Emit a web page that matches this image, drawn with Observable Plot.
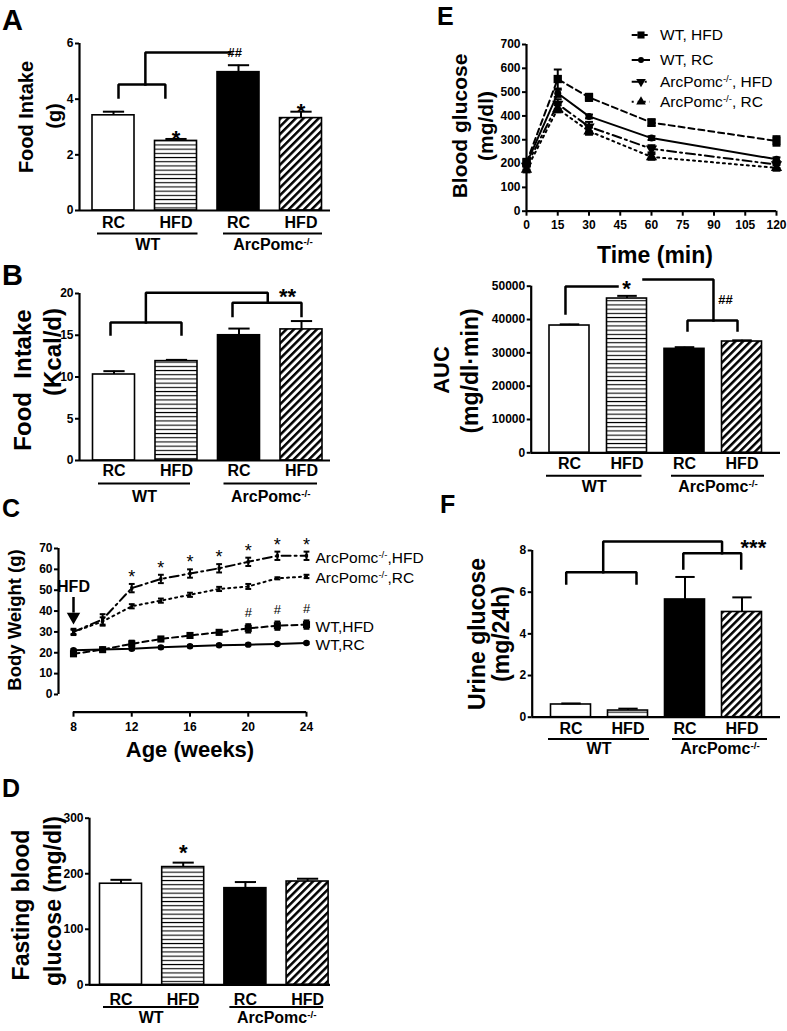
<!DOCTYPE html>
<html><head><meta charset="utf-8">
<script src="https://cdn.jsdelivr.net/npm/d3@7"></script>
<script src="https://cdn.jsdelivr.net/npm/@observablehq/plot@0.6"></script>
<style>
html,body{margin:0;padding:0;background:#fff;overflow:hidden;}
#fig{position:relative;width:787px;height:1031px;background:#fff;}
#fig svg{position:absolute;}
</style></head><body>
<svg width="0" height="0" style="position:absolute;left:0;top:0">
 <defs>
  <pattern id="hatchH" patternUnits="userSpaceOnUse" width="8" height="4.2"><rect width="8" height="4.2" fill="#fff"/><rect y="1.6" width="8" height="1.1" fill="#000"/></pattern>
  <pattern id="hatchD" patternUnits="userSpaceOnUse" width="5.4" height="5.4" patternTransform="rotate(45)"><rect width="5.4" height="5.4" fill="#fff"/><rect width="2.5" height="5.4" fill="#000"/></pattern>
 </defs>
</svg>
<div id="fig"></div>
<script>
// ---------------- DATA ----------------
const barLabels = ["RC", "HFD", "RC", "HFD"];
const groupNames = ["WT", "ArcPomc-/-"];

const foodIntakeG = [3.42, 2.50, 4.97, 3.32];
const foodIntakeGErr = [0.13, 0.07, 0.25, 0.23];
const foodIntakeKcal = [10.3, 11.9, 15.0, 15.7];
const foodIntakeKcalErr = [0.4, 0.15, 0.8, 1.0];
const fastingGlucose = [182, 212, 174, 186];
const fastingGlucoseErr = [7, 8, 11, 5];
const aucGlucose = [38200, 46300, 31200, 33400];
const aucGlucoseErr = [350, 800, 500, 350];
const urineGlucose = [0.61, 0.32, 5.65, 5.05];
const urineGlucoseErr = [0.05, 0.09, 1.08, 0.70];

const ageWeeks = [8, 10, 12, 14, 16, 18, 20, 22, 24];
const bwArcHFD = [30, 36, 51, 55.4, 58, 60.5, 63.6, 66.5, 66.5];
const bwArcHFDErr = [1.5, 2.5, 2, 2, 2, 2, 2, 2, 2];
const bwArcRC = [30, 35, 42.3, 45, 47.8, 50.6, 51.8, 55.7, 56.6];
const bwArcRCErr = [1, 2, 1, 1, 1, 1, 1.2, 0.5, 0.8];
const bwWTHFD = [19.5, 21.5, 24.3, 26.6, 28.3, 29.8, 31.7, 33, 33.5];
const bwWTHFDErr = [1, 0.8, 1.5, 1, 1, 1, 2, 2, 2];
const bwWTRC = [21.2, 21.6, 21.9, 22.6, 23.1, 23.6, 23.9, 24.2, 24.7];
const bwWTRCErr = [0.6, 0.5, 0.6, 0.5, 0.5, 0.5, 0.5, 0.5, 0.5];
const bwStarWeeks = [12, 14, 16, 18, 20, 22, 24];
const bwHashWeeks = [20, 22, 24];
const bwSeriesNames = ["ArcPomc-/-,HFD", "ArcPomc-/-,RC", "WT,HFD", "WT,RC"];

const timeMin = [0, 15, 30, 60, 120];
const gttWTHFD = [205, 555, 478, 372, 295];
const gttWTHFDErr = [15, 40, 15, 14, 20];
const gttWTRC = [200, 495, 398, 307, 218];
const gttWTRCErr = [12, 15, 8, 8, 8];
const gttArcHFD = [190, 450, 355, 262, 196];
const gttArcHFDErr = [15, 20, 20, 15, 15];
const gttArcRC = [175, 430, 336, 228, 182];
const gttArcRCErr = [12, 15, 15, 12, 12];
const gttNames = ["WT, HFD", "WT, RC", "ArcPomc-/-, HFD", "ArcPomc-/-, RC"];

// ---------------- STYLE ----------------
const FONT = '"Liberation Sans", Arial, Helvetica, sans-serif';
const FILLS = ["#ffffff", "url(#hatchH)", "#000000", "url(#hatchD)"];
const fig = document.getElementById("fig");
const baseStyle = () => ({background: "transparent", fontFamily: FONT, fontSize: "12px", fontWeight: "bold", color: "black", overflow: "visible"});

function sup(svg) {
  d3.select(svg).selectAll("text").each(function () {
    if (this.querySelector("tspan")) return;
    const t = this.textContent, k = t.indexOf("-/-");
    if (k < 0) return;
    const sel = d3.select(this);
    sel.text(null);
    sel.append("tspan").text(t.slice(0, k));
    sel.append("tspan").attr("baseline-shift", "super").attr("font-size", "0.62em").text("-/-");
    const rest = t.slice(k + 3);
    if (rest) sel.append("tspan").text(rest);
  });
}
function mount(svg, L, T) {
  svg.style.left = L + "px"; svg.style.top = T + "px";
  fig.appendChild(svg); sup(svg);
  return svg;
}
function txt(svg, L, T, x, y, s, {size = 20, weight = "bold", rotate = false, anchor = "middle"} = {}) {
  const t = d3.select(svg).append("text").attr("font-family", FONT).attr("font-size", size)
    .attr("font-weight", weight).attr("text-anchor", anchor).attr("fill", "#000").style("white-space", "pre");
  if (rotate) t.attr("transform", `translate(${x - L},${y - T}) rotate(-90)`);
  else t.attr("x", x - L).attr("y", y - T);
  t.text(s);
  return t;
}

// ---------------- BAR PANELS ----------------
function barPanel(o) {
  const [L, T, W, H] = o.region, [fx0, fx1, fy0, fy1] = o.frame;
  const sMin = 1 - (o.c1 - fx0) / o.sp, sMax = 1 + (fx1 - o.c1) / o.sp;
  const hw = o.bw / 2 / o.sp, cw = 0.17;
  const bars = o.values.map((v, i) => ({s: i + 1, v, top: v + o.errs[i], label: barLabels[i], fill: FILLS[i]}));
  const groups = groupNames.map((g, j) => {
    const x1 = 2 * j + 1 + o.ul[j][0] / o.sp, x2 = 2 * j + 2 + o.ul[j][1] / o.sp;
    return {g, x1, x2, mid: (x1 + x2) / 2};
  });
  const marks = [
    Plot.rect(bars, {x1: d => d.s - hw, x2: d => d.s + hw, y1: 0, y2: "v", fill: "fill", stroke: "#000", strokeWidth: 1.6}),
    Plot.ruleX(bars, {x: "s", y1: "v", y2: "top", strokeWidth: 2}),
    Plot.link(bars, {x1: d => d.s - cw, x2: d => d.s + cw, y1: "top", y2: "top", strokeWidth: 2}),
    Plot.ruleY([0], {x1: sMin, x2: sMax, strokeWidth: 2.2}),
    Plot.ruleX([sMin], {y1: 0, y2: o.yMax, strokeWidth: 2.2}),
    Plot.axisY({ticks: o.yTicks, tickSize: 4, tickPadding: 2, strokeWidth: 2, fontSize: 12, fontWeight: "bold", label: null, tickFormat: d => String(d)}),
    Plot.text(bars, {x: "s", y: 0, text: "label", dy: o.dy[0], fontSize: 16, fontWeight: "bold"}),
    Plot.ruleY(groups, {y: 0, x1: "x1", x2: "x2", dy: o.dy[1], strokeWidth: 2}),
    Plot.text(groups, {x: "mid", y: 0, text: "g", dy: o.dy[2], fontSize: 16, fontWeight: "bold"}),
    Plot.text(bars.filter((d, i) => (o.stars || []).includes(i)), {x: "s", y: "top", text: () => "*", dy: o.starDy || 0, fontSize: 22, fontWeight: "bold"}),
    ...(o.brackets || []).map(b => Plot.line(b, {strokeWidth: 2.5, strokeLinejoin: "miter", strokeLinecap: "square"})),
    ...(o.notes || []).map(n => Plot.text([n], {x: d => d[0], y: d => d[1], text: d => d[2], fontSize: n[3], fontWeight: "bold"}))
  ];
  const svg = Plot.plot({
    width: W, height: H,
    marginLeft: fx0 - L, marginRight: L + W - fx1, marginTop: fy0 - T, marginBottom: T + H - fy1,
    x: {domain: [sMin, sMax], axis: null},
    y: {domain: [0, o.yMax], label: null},
    color: {type: "identity"},
    style: baseStyle(),
    marks
  });
  mount(svg, L, T);
  return svg;
}

// Panel A
{
  const L = 0, T = 0;
  const svg = barPanel({
    region: [L, T, 390, 255], frame: [79, 330, 43, 210], yMax: 6, yTicks: [0, 2, 4, 6],
    values: foodIntakeG, errs: foodIntakeGErr, c1: 113, sp: 62.5, bw: 42,
    ul: [[-16, 22], [-15, 21.5]], dy: [12, 23, 34], stars: [1, 3], starDy: 0,
    brackets: [
      [[1.08, 4.06], [1.08, 4.53], [1.83, 4.53], [1.83, 4.06]],
      [[1.51, 4.53], [1.51, 5.68], [2.87, 5.68]]
    ],
    notes: [[2.94, 5.66, "##", 13]]
  });
  txt(svg, L, T, 2, 30, "A", {size: 29, anchor: "start"});
  txt(svg, L, T, 32.5, 117, "Food Intake", {size: 20, rotate: true});
  txt(svg, L, T, 61, 116, "(g)", {size: 20, rotate: true});
}
// Panel B
{
  const L = 0, T = 255;
  const svg = barPanel({
    region: [L, T, 390, 245], frame: [79, 330, 293, 460], yMax: 20, yTicks: [0, 5, 10, 15, 20],
    values: foodIntakeKcal, errs: foodIntakeKcalErr, c1: 113.5, sp: 62.5, bw: 42,
    ul: [[-15.5, 14], [-15, 16]], dy: [10.5, 23, 36.5],
    brackets: [
      [[0.944, 15.09], [0.944, 16.53], [2.08, 16.53], [2.08, 15.09]],
      [[1.51, 16.53], [1.51, 20.1], [3.46, 20.1], [3.46, 18.9]],
      [[2.896, 17.3], [2.896, 18.9], [4.0, 18.9], [4.0, 17.3]]
    ],
    notes: [[3.776, 19.58, "**", 22]]
  });
  txt(svg, L, T, 2, 285, "B", {size: 29, anchor: "start"});
  txt(svg, L, T, 31, 380, "Food  Intake", {size: 24, rotate: true});
  txt(svg, L, T, 61, 352, "(Kcal/d)", {size: 24, rotate: true});
}
// Panel D
{
  const L = 0, T = 765;
  const svg = barPanel({
    region: [L, T, 390, 266], frame: [89, 330, 817.7, 984.3], yMax: 300, yTicks: [0, 100, 200, 300],
    values: fastingGlucose, errs: fastingGlucoseErr, c1: 120.5, sp: 62.2, bw: 42,
    ul: [[-17.5, 15.5], [-15.5, 16]], dy: [15, 22.3, 33], stars: [1], starDy: -9.6
  });
  txt(svg, L, T, 2, 797, "D", {size: 25, anchor: "start"});
  txt(svg, L, T, 29, 905, "Fasting blood", {size: 23, rotate: true});
  txt(svg, L, T, 61, 901, "glucose (mg/dl)", {size: 23, rotate: true});
}
// Panel E (AUC)
{
  const L = 390, T = 265;
  const svg = barPanel({
    region: [L, T, 397, 235], frame: [530.7, 780, 285.7, 452.3], yMax: 50000, yTicks: [0, 10000, 20000, 30000, 40000, 50000],
    values: aucGlucose, errs: aucGlucoseErr, c1: 569, sp: 57.5, bw: 40,
    ul: [[-23, 15], [-13, 22.5]], dy: [11, 23, 34],
    brackets: [
      [[0.93, 41800], [0.93, 49900], [1.835, 49900]],
      [[2.287, 52000], [3.504, 52000], [3.504, 39700]],
      [[3.052, 36700], [3.052, 39700], [3.922, 39700], [3.922, 36700]]
    ],
    notes: [[1.99, 49070, "*", 22], [3.713, 46000, "##", 13]]
  });
  txt(svg, L, T, 449.4, 370, "AUC", {size: 22, rotate: true});
  txt(svg, L, T, 478, 371, "(mg/dl\u00B7min)", {size: 23, rotate: true});
}
// Panel F
{
  const L = 390, T = 500;
  const svg = barPanel({
    region: [L, T, 397, 270], frame: [531.7, 780, 550, 716.7], yMax: 8, yTicks: [0, 2, 4, 6, 8],
    values: urineGlucose, errs: urineGlucoseErr, c1: 570.5, sp: 57, bw: 40,
    ul: [[-22.5, 21.5], [-12.5, 25.5]], dy: [12, 21.7, 31.7],
    brackets: [
      [[0.916, 6.42], [0.916, 6.96], [2.149, 6.96], [2.149, 6.42]],
      [[1.565, 6.96], [1.565, 8.43], [3.65, 8.43], [3.65, 7.87]],
      [[2.97, 7.14], [2.97, 7.87], [3.986, 7.87], [3.986, 7.14]]
    ],
    notes: [[4.2, 8.1, "***", 22]]
  });
  txt(svg, L, T, 440, 513, "F", {size: 25, anchor: "start"});
  txt(svg, L, T, 484.5, 634, "Urine glucose", {size: 23, rotate: true});
  txt(svg, L, T, 509, 634, "(mg/24h)", {size: 23, rotate: true});
}

// ---------------- PANEL C (body weight) ----------------
{
  const L = 0, T = 500, W = 440, H = 270;
  const fx0 = 58, fx1 = 306, fy0 = 548, fy1 = 711.7;
  const xMin = 6.97, yMin = -8.5;
  const series = [
    {name: bwSeriesNames[0], v: bwArcHFD, e: bwArcHFDErr, dash: "9,4,2,4", sym: "square", r: 1.8},
    {name: bwSeriesNames[1], v: bwArcRC, e: bwArcRCErr, dash: "2,4", sym: "square", r: 1.5},
    {name: bwSeriesNames[2], v: bwWTHFD, e: bwWTHFDErr, dash: "6,4", sym: "square", r: 4},
    {name: bwSeriesNames[3], v: bwWTRC, e: bwWTRCErr, dash: null, sym: "circle", r: 3.2}
  ];
  const rowsOf = s => ageWeeks.map((a, i) => ({x: a, v: s.v[i], e: s.e[i], name: s.name}));
  const cw = 0.2;
  const marks = [];
  for (const s of series) {
    const rows = rowsOf(s);
    marks.push(Plot.line(rows, {x: "x", y: "v", strokeWidth: 2, strokeDasharray: s.dash}));
    marks.push(Plot.ruleX(rows, {x: "x", y1: d => d.v - d.e, y2: d => d.v + d.e, strokeWidth: 2}));
    marks.push(Plot.link(rows, {x1: d => d.x - cw, x2: d => d.x + cw, y1: d => d.v + d.e, y2: d => d.v + d.e, strokeWidth: 2}));
    marks.push(Plot.link(rows, {x1: d => d.x - cw, x2: d => d.x + cw, y1: d => d.v - d.e, y2: d => d.v - d.e, strokeWidth: 2}));
    marks.push(Plot.dot(rows, {x: "x", y: "v", symbol: s.sym, r: s.r, fill: "#000", stroke: null}));
    marks.push(Plot.text(rows.slice(-1), {x: "x", y: "v", text: "name", dx: 9, dy: 2, textAnchor: "start", fontSize: 15.5, fontWeight: "normal"}));
  }
  const arcRows = rowsOf(series[0]).filter(d => bwStarWeeks.includes(d.x));
  const wtRows = rowsOf(series[2]).filter(d => bwHashWeeks.includes(d.x));
  marks.push(Plot.text(arcRows, {x: "x", y: "v", text: () => "*", dy: -11, fontSize: 18, fontWeight: "normal"}));
  marks.push(Plot.text(wtRows, {x: "x", y: "v", text: () => "#", dy: -16, fontSize: 13, fontWeight: "normal"}));
  // HFD start arrow
  marks.push(Plot.text([ageWeeks[0]], {x: d => d, y: 51.8, text: () => "HFD", fontSize: 16, fontWeight: "bold"}));
  marks.push(Plot.ruleX([ageWeeks[0]], {x: d => d, y1: 46.5, y2: 39, strokeWidth: 2.5}));
  marks.push(Plot.dot([ageWeeks[0]], {x: d => d, y: 37.3, symbol: "triangle", rotate: 180, r: 5, fill: "#000", stroke: null}));
  // axes
  marks.push(Plot.ruleX([xMin], {y1: 0, y2: 70, strokeWidth: 2.2}));
  marks.push(Plot.ruleY([yMin], {x1: ageWeeks[0], x2: ageWeeks[ageWeeks.length - 1], strokeWidth: 2.2}));
  marks.push(Plot.axisY({ticks: d3.range(0, 71, 10), tickSize: 4, tickPadding: 2, strokeWidth: 2, fontSize: 12, fontWeight: "bold", label: null}));
  marks.push(Plot.axisX({ticks: [8, 12, 16, 20, 24], tickSize: 5, tickPadding: 5, strokeWidth: 2, fontSize: 12, fontWeight: "bold", label: null}));
  const svg = Plot.plot({
    width: W, height: H,
    marginLeft: fx0 - L, marginRight: L + W - fx1, marginTop: fy0 - T, marginBottom: T + H - fy1,
    x: {domain: [xMin, 24], label: null},
    y: {domain: [yMin, 70], label: null},
    style: baseStyle(),
    marks
  });
  mount(svg, L, T);
  txt(svg, L, T, 2, 517, "C", {size: 25, anchor: "start"});
  txt(svg, L, T, 21, 620, "Body Weight (g)", {size: 18.5, rotate: true});
  txt(svg, L, T, 190, 757, "Age (weeks)", {size: 22});
}

// ---------------- PANEL E (glucose tolerance) ----------------
{
  const L = 390, T = 0, W = 397, H = 265;
  const fx0 = 526, fx1 = 776, fy0 = 44, fy1 = 210.7;
  const series = [
    {name: gttNames[0], v: gttWTHFD, e: gttWTHFDErr, dash: "6,4", sym: "square", r: 4.7, rot: 0},
    {name: gttNames[1], v: gttWTRC, e: gttWTRCErr, dash: null, sym: "circle", r: 3.5, rot: 0},
    {name: gttNames[2], v: gttArcHFD, e: gttArcHFDErr, dash: "9,4,2,4", sym: "triangle", r: 4.2, rot: 180},
    {name: gttNames[3], v: gttArcRC, e: gttArcRCErr, dash: "2,4", sym: "triangle", r: 4.2, rot: 0}
  ];
  const cw = 1.9;
  const marks = [];
  for (const s of series) {
    const rows = timeMin.map((t, i) => ({x: t, v: s.v[i], e: s.e[i]}));
    marks.push(Plot.line(rows, {x: "x", y: "v", strokeWidth: 2, strokeDasharray: s.dash}));
    marks.push(Plot.ruleX(rows, {x: "x", y1: d => d.v - d.e, y2: d => d.v + d.e, strokeWidth: 2}));
    marks.push(Plot.link(rows, {x1: d => d.x - cw, x2: d => d.x + cw, y1: d => d.v + d.e, y2: d => d.v + d.e, strokeWidth: 2}));
    marks.push(Plot.link(rows, {x1: d => d.x - cw, x2: d => d.x + cw, y1: d => d.v - d.e, y2: d => d.v - d.e, strokeWidth: 2}));
    marks.push(Plot.dot(rows, {x: "x", y: "v", symbol: s.sym, r: s.r, rotate: s.rot, fill: "#000", stroke: null}));
  }
  marks.push(Plot.ruleX([0], {y1: 0, y2: 700, strokeWidth: 2.2}));
  marks.push(Plot.ruleY([0], {x1: 0, x2: 120, strokeWidth: 2.2}));
  marks.push(Plot.axisY({ticks: d3.range(0, 701, 100), tickSize: 4, tickPadding: 2, strokeWidth: 2, fontSize: 12, fontWeight: "bold", label: null}));
  marks.push(Plot.axisX({ticks: d3.range(0, 121, 15), tickSize: 5, tickPadding: 4, strokeWidth: 2, fontSize: 12, fontWeight: "bold", label: null}));
  const svg = Plot.plot({
    width: W, height: H,
    marginLeft: fx0 - L, marginRight: L + W - fx1, marginTop: fy0 - T, marginBottom: T + H - fy1,
    x: {domain: [0, 120], label: null},
    y: {domain: [0, 700], label: null},
    style: baseStyle(),
    marks
  });
  // legend
  const g = d3.select(svg).append("g").attr("transform", `translate(${-L},${-T})`);
  const legY = [35, 60, 81.7, 101.7];
  const symMap = {square: d3.symbolSquare, circle: d3.symbolCircle, triangle: d3.symbolTriangle};
  series.forEach((s, i) => {
    const y = legY[i];
    g.append("line").attr("x1", 631.7).attr("x2", 650).attr("y1", y).attr("y2", y)
      .attr("stroke", "#000").attr("stroke-width", 2).attr("stroke-dasharray", s.dash);
    g.append("path").attr("d", d3.symbol(symMap[s.sym], Math.PI * (s.r * 0.85) ** 2)())
      .attr("transform", `translate(641,${y}) rotate(${s.rot})`).attr("fill", "#000");
    g.append("text").attr("x", 660).attr("y", y).attr("dy", "0.35em").attr("font-family", FONT)
      .attr("text-anchor", "start")
      .attr("font-size", 15.5).attr("font-weight", "normal").attr("fill", "#000").text(s.name);
  });
  mount(svg, L, T);
  txt(svg, L, T, 437, 25, "E", {size: 25, anchor: "start"});
  txt(svg, L, T, 466.5, 126, "Blood glucose", {size: 21, rotate: true});
  txt(svg, L, T, 492.5, 126, "(mg/dl)", {size: 21, rotate: true});
  txt(svg, L, T, 655, 263, "Time (min)", {size: 23});
}
</script>
</body></html>
